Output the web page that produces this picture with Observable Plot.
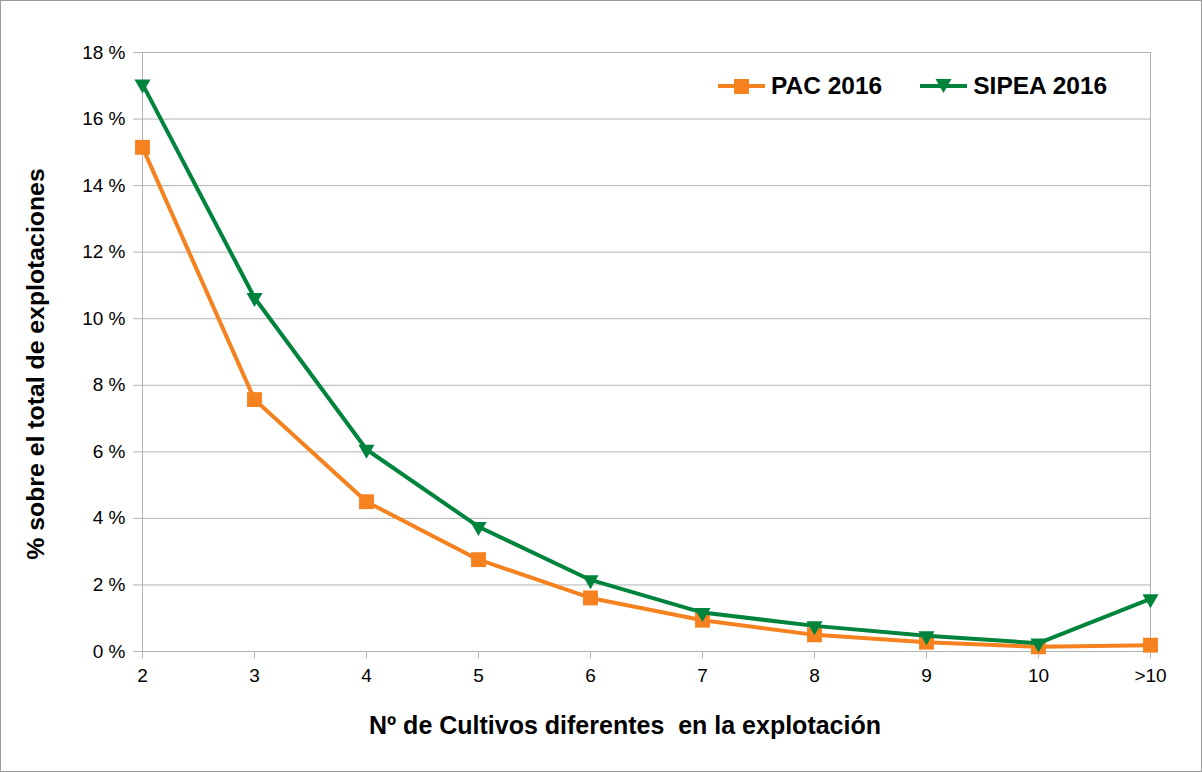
<!DOCTYPE html>
<html>
<head>
<meta charset="utf-8">
<script src="https://cdn.jsdelivr.net/npm/d3@7"></script>
<script src="https://cdn.jsdelivr.net/npm/@observablehq/plot@0.6"></script>
<style>
  html, body { margin: 0; padding: 0; background: #fff; }
  #wrap { position: relative; width: 1202px; height: 772px; font-family: "Liberation Sans", Arial, sans-serif; }
  #wrap svg.chart { position: absolute; left: 0; top: 0; outline: 1px solid #9a9a9a; outline-offset: -1px; }
  .legend { position: absolute; top: 70px; left: 718px; display: flex; align-items: center; font-weight: bold; font-size: 24.5px; color: #000; }
  .legend .item { display: flex; align-items: center; margin-right: 38px; }
  .legend svg { margin-right: 6px; }
</style>
</head>
<body>
<div id="wrap"></div>
<script>
const categories = ["2", "3", "4", "5", "6", "7", "8", "9", "10", ">10"];
const pac = [15.15, 7.57, 4.50, 2.76, 1.61, 0.94, 0.50, 0.28, 0.14, 0.19];
const sipea = [17.05, 10.63, 6.07, 3.75, 2.15, 1.17, 0.77, 0.47, 0.25, 1.58];
const yTicks = [0, 2, 4, 6, 8, 10, 12, 14, 16, 18];
const seriesNames = ["PAC 2016", "SIPEA 2016"];
const colors = ["#f5821f", "#00843d"];

const pacData = categories.map((c, i) => ({cat: c, v: pac[i]}));
const sipeaData = categories.map((c, i) => ({cat: c, v: sipea[i]}));

const W = 1202, H = 772;
const chart = Plot.plot({
  width: W,
  height: H,
  marginLeft: 141,
  marginRight: 52,
  marginTop: 52,
  marginBottom: 121,
  style: {fontFamily: "'Liberation Sans', Arial, sans-serif", background: "#fff", overflow: "visible"},
  x: {type: "point", domain: categories, padding: 0},
  y: {domain: [0, 18]},
  marks: [
    Plot.gridY(yTicks, {stroke: "#b3b3b3", strokeOpacity: 1, strokeWidth: 1}),
    Plot.ruleX([categories[0], categories[categories.length - 1]], {stroke: "#b3b3b3", strokeWidth: 1}),
    Plot.ruleY([0], {stroke: "#b3b3b3", strokeWidth: 1}),
    Plot.axisY(yTicks, {
      tickFormat: d => d + " %", tickSize: 8, tickPadding: 8,
      stroke: "#b3b3b3", fill: "#000", fontSize: 19, label: null
    }),
    Plot.axisX({
      tickSize: 7, tickPadding: 10, stroke: "#b3b3b3", fill: "#000", fontSize: 19, label: null
    }),
    Plot.line(pacData, {x: "cat", y: "v", stroke: colors[0], strokeWidth: 4, strokeLinejoin: "round"}),
    Plot.dot(pacData, {x: "cat", y: "v", symbol: "square", r: 8.4, fill: colors[0], stroke: "none"}),
    Plot.line(sipeaData, {x: "cat", y: "v", stroke: colors[1], strokeWidth: 4, strokeLinejoin: "round"}),
    Plot.dot(sipeaData, {x: "cat", y: "v", symbol: "triangle", rotate: 180, r: 6, fill: colors[1], stroke: "none"}),
    Plot.text(["Nº de Cultivos diferentes  en la explotación"], {
      frameAnchor: "bottom", dy: 82, fontSize: 25, fontWeight: "bold", fill: "#000", dx: -21
    }),
    Plot.text(["% sobre el total de explotaciones"], {
      frameAnchor: "left", textAnchor: "middle", dx: -105, dy: 12, rotate: -90, fontSize: 24.8, fontWeight: "bold", fill: "#000"
    })
  ]
});
chart.classList.add("chart");
const wrap = document.getElementById("wrap");
wrap.appendChild(chart);

// Legend
const legend = document.createElement("div");
legend.className = "legend";
seriesNames.forEach((name, i) => {
  const item = document.createElement("div");
  item.className = "item";
  const sym = i === 0
    ? `<rect x="16" y="9" width="15" height="15" fill="${colors[0]}"/>`
    : `<path d="M15.5,9 L31.5,9 L23.5,23 Z" fill="${colors[1]}"/>`;
  item.innerHTML = `<svg width="47" height="32" viewBox="0 0 47 32"><line x1="0" x2="47" y1="16" y2="16" stroke="${colors[i]}" stroke-width="4"/>${sym}</svg><span>${name}</span>`;
  legend.appendChild(item);
});
wrap.appendChild(legend);
</script>
</body>
</html>
